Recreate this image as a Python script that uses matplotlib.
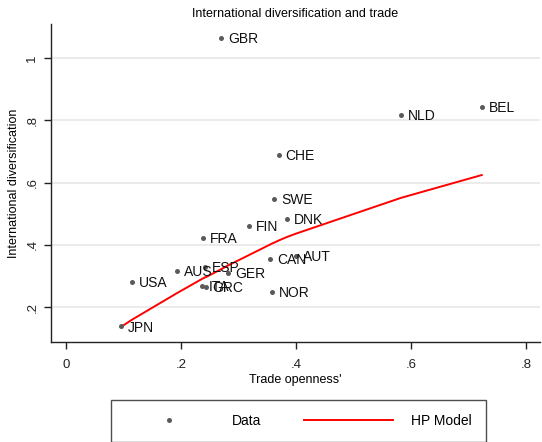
import matplotlib
matplotlib.use('Agg')
import matplotlib.pyplot as plt

plt.rcParams['font.family'] = ['Liberation Sans', 'DejaVu Sans']

# country data: trade openness vs international diversification
countries = ['JPN', 'USA', 'AUS', 'ITA', 'GRC', 'FRA', 'ESP', 'GBR', 'GER', 'FIN',
             'CAN', 'NOR', 'SWE', 'CHE', 'DNK', 'AUT', 'NLD', 'BEL']
trade = [0.096, 0.115, 0.193, 0.236, 0.243, 0.238, 0.242, 0.270, 0.282, 0.318,
         0.355, 0.358, 0.362, 0.370, 0.384, 0.400, 0.583, 0.723]
divers = [0.139, 0.281, 0.316, 0.268, 0.266, 0.422, 0.329, 1.064, 0.310, 0.461,
          0.355, 0.249, 0.547, 0.688, 0.483, 0.364, 0.817, 0.843]
# HP model fitted values at each country's trade openness
hp_fit = [0.137, 0.160, 0.245, 0.290, 0.296, 0.292, 0.296, 0.322, 0.334, 0.367,
          0.401, 0.404, 0.407, 0.414, 0.425, 0.436, 0.551, 0.624]

xticks = [0, 0.2, 0.4, 0.6, 0.8]
xticklabels = ['0', '.2', '.4', '.6', '.8']
yticks = [0.2, 0.4, 0.6, 0.8, 1.0]
yticklabels = ['.2', '.4', '.6', '.8', '1']

fig = plt.figure(figsize=(5.42, 4.42), dpi=100)
ax = fig.add_axes([0.094, 0.226, 0.902, 0.72])

ax.set_xlim(-0.026, 0.824)
ax.set_ylim(0.088, 1.109)

for y in yticks:
    ax.axhline(y, color='#e8e8e8', lw=1.2, zorder=0)

dots, = ax.plot(trade, divers, 'o', color='#5a5a5a', ms=3.6, mew=0, label='Data', zorder=3)
for c, x, y in zip(countries, trade, divers):
    ax.annotate(c, (x, y), xytext=(5, -1), textcoords='offset points',
                ha='left', va='center', fontsize=10, color='#111111')

order = sorted(range(len(trade)), key=lambda i: trade[i])
line, = ax.plot([trade[i] for i in order], [hp_fit[i] for i in order],
                color='red', lw=1.4, label='HP Model', zorder=2)

ax.set_xticks(xticks)
ax.set_xticklabels(xticklabels)
ax.set_yticks(yticks)
ax.set_yticklabels(yticklabels, rotation=90, va='center')
ax.tick_params(direction='out', length=5, width=1, labelsize=9.5, colors='#222222')
ax.tick_params(axis='x', pad=7)
ax.tick_params(axis='y', pad=4)

for s in ['top', 'right']:
    ax.spines[s].set_visible(False)
for s in ['left', 'bottom']:
    ax.spines[s].set_color('#222222')
    ax.spines[s].set_linewidth(1)

ax.set_title('International diversification and trade', fontsize=9, pad=5)
ax.set_xlabel("Trade openness'", fontsize=9, labelpad=2)
ax.set_ylabel('International diversification', fontsize=9, labelpad=5)

leg = fig.legend(handles=[dots, line], loc='upper left',
                 bbox_to_anchor=(111 / 542, 1 - 400 / 442), ncol=2,
                 fontsize=10, handlelength=6.4, handletextpad=1.3,
                 columnspacing=3.1, borderpad=1.0, borderaxespad=0,
                 fancybox=False, frameon=True)
leg.get_frame().set_edgecolor('#222222')
leg.get_frame().set_linewidth(1)

fig.savefig('out.png', dpi=100)
